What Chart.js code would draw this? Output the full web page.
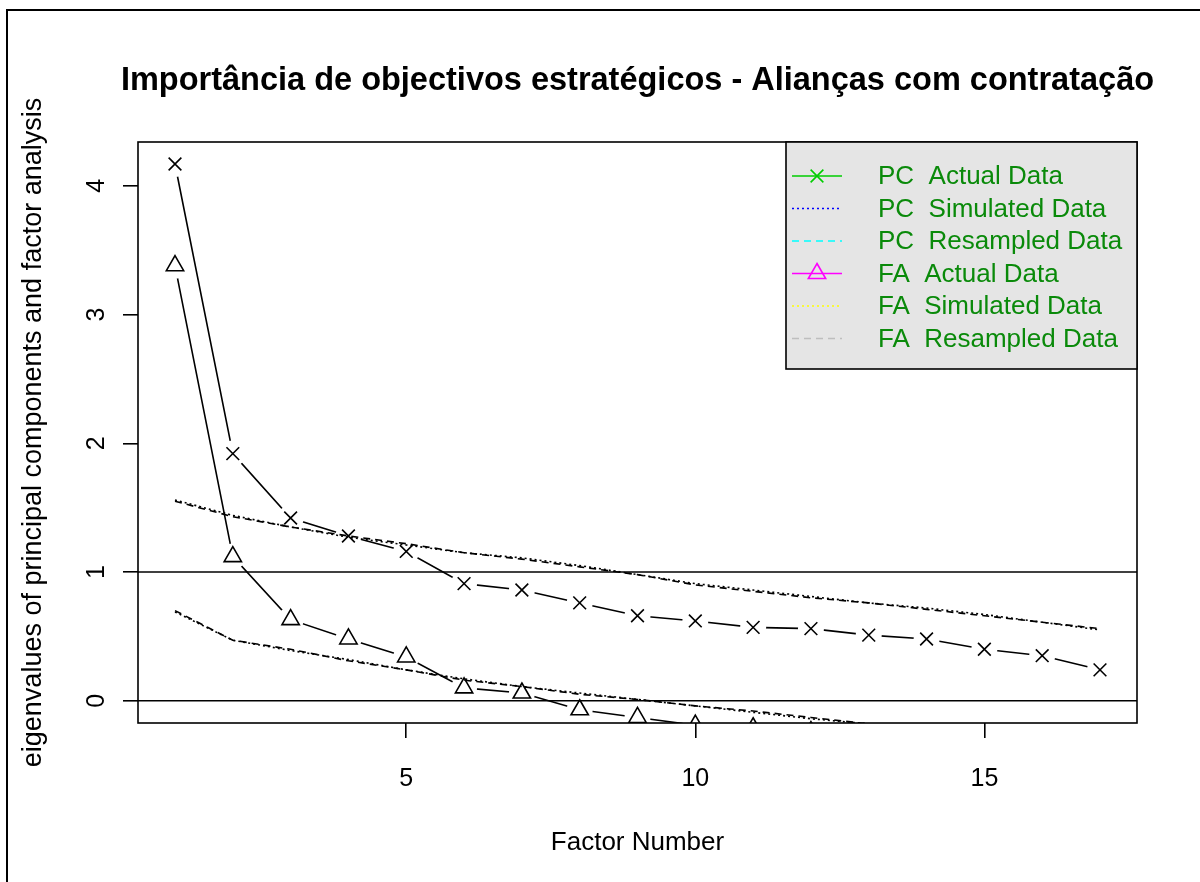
<!DOCTYPE html>
<html>
<head>
<meta charset="utf-8">
<script src="https://cdn.jsdelivr.net/npm/chart.js@4.4.0/dist/chart.umd.min.js"></script>
<style>
  html, body { margin: 0; padding: 0; background: #fff; }
</style>
</head>
<body>
<canvas id="chart" width="1200" height="882"></canvas>
<script>
// data
var FACTORS = [1, 2, 3, 4, 5, 6, 7, 8, 9, 10, 11, 12, 13, 14, 15, 16, 17];
var PC_ACTUAL = [4.17, 1.92, 1.42, 1.28, 1.16, 0.91, 0.86, 0.76, 0.66, 0.62, 0.57, 0.56, 0.51, 0.48, 0.40, 0.35, 0.24];
var PC_SIMULATED = [1.56, 1.44, 1.35, 1.27, 1.21, 1.15, 1.11, 1.05, 0.98, 0.91, 0.86, 0.81, 0.76, 0.72, 0.67, 0.61, 0.55];
var PC_RESAMPLED = [1.55, 1.43, 1.35, 1.28, 1.22, 1.15, 1.10, 1.04, 0.98, 0.90, 0.85, 0.80, 0.76, 0.71, 0.66, 0.61, 0.56];
var FA_ACTUAL = [3.38, 1.12, 0.63, 0.48, 0.34, 0.10, 0.06, -0.07, -0.13, -0.19, -0.21, -0.24, -0.27, -0.30, -0.32, -0.34, -0.37];
var FA_SIMULATED = [0.69, 0.47, 0.39, 0.32, 0.24, 0.17, 0.11, 0.06, 0.01, -0.04, -0.09, -0.14, -0.18, -0.21, -0.24, -0.27, -0.30];
var FA_RESAMPLED = [0.70, 0.47, 0.40, 0.31, 0.24, 0.16, 0.11, 0.05, 0.01, -0.04, -0.08, -0.13, -0.18, -0.21, -0.24, -0.27, -0.30];
var REF_LINES = [1, 0];

var X_TICKS = [5, 10, 15];
var Y_TICKS = [0, 1, 2, 3, 4];
var X_MIN = 0.36, X_MAX = 17.64;
var Y_MIN = -0.173, Y_MAX = 4.341;

var TITLE = 'Importância de objectivos estratégicos - Alianças com contratação';
var X_TITLE = 'Factor Number';
var Y_TITLE = 'eigenvalues of principal components and factor analysis';

var LEGEND_LABELS = ['PC  Actual Data', 'PC  Simulated Data', 'PC  Resampled Data',
                     'FA  Actual Data', 'FA  Simulated Data', 'FA  Resampled Data'];
var LEGEND_COLORS = ['#00cd00', '#0000ff', '#00ffff', '#ff00ff', '#ffff00', '#bebebe'];

var FONT = '"Liberation Sans", Arial, sans-serif';
var DOTTED = [2, 3];
var DASHED = [7, 5];
var LW = 1.6;

Chart.defaults.font.family = FONT;
Chart.defaults.color = '#000';

function pts(vals) {
    return FACTORS.map((f, i) => ({ x: f, y: vals[i] }));
}

// line with white knock-outs at the points (R type = "b")
function actualLine(vals) {
    return { data: pts(vals), borderColor: '#000', borderWidth: LW, tension: 0,
             pointStyle: 'circle', pointRadius: 13, pointBackgroundColor: '#fff',
             pointBorderWidth: 0, order: 10, clip: 0 };
}
function markers(vals, style, r) {
    return { data: pts(vals), showLine: false, pointStyle: style, pointRadius: r,
             pointBorderColor: '#000', pointBackgroundColor: 'rgba(0,0,0,0)',
             pointBorderWidth: LW, order: 1, clip: 0 };
}
function dashedLine(vals, dash) {
    return { data: pts(vals), borderColor: '#000', borderWidth: LW, borderDash: dash,
             tension: 0, pointRadius: 0, order: 5, clip: 0 };
}

var decorations = {
    id: 'decorations',
    beforeDraw(chart) {
        var ctx = chart.ctx;
        ctx.save();
        ctx.fillStyle = '#fff';
        ctx.fillRect(0, 0, chart.width, chart.height);
        ctx.strokeStyle = '#000';
        ctx.lineWidth = 2;
        ctx.beginPath();
        ctx.moveTo(7, chart.height);
        ctx.lineTo(7, 10);
        ctx.lineTo(chart.width, 10);
        ctx.stroke();
        ctx.restore();
    },
    afterDatasetsDraw(chart) {
        var ctx = chart.ctx, a = chart.chartArea, y = chart.scales.y;
        ctx.save();
        ctx.strokeStyle = '#000';
        ctx.lineWidth = LW;
        REF_LINES.forEach(v => {
            var py = y.getPixelForValue(v);
            ctx.beginPath();
            ctx.moveTo(a.left, py);
            ctx.lineTo(a.right, py);
            ctx.stroke();
        });
        ctx.strokeRect(a.left, a.top, a.right - a.left, a.bottom - a.top);
        ctx.restore();
    },
    afterDraw(chart) {
        var ctx = chart.ctx, a = chart.chartArea;
        ctx.save();
        // main title, centred over the plot region
        ctx.fillStyle = '#000';
        ctx.font = 'bold 32.5px ' + FONT;
        ctx.textAlign = 'center';
        ctx.textBaseline = 'middle';
        ctx.fillText(TITLE, (a.left + a.right) / 2, 81);

        // legend box, top right
        var lx = 786, ly = a.top, lw = a.right - lx, lh = 227;
        ctx.fillStyle = '#e5e5e5';
        ctx.fillRect(lx, ly, lw, lh);
        ctx.strokeStyle = '#000';
        ctx.lineWidth = LW;
        ctx.strokeRect(lx, ly, lw, lh);

        var dashes = [[], DOTTED, DASHED, [], DOTTED, DASHED];
        ctx.font = '26px ' + FONT;
        ctx.textAlign = 'left';
        LEGEND_LABELS.forEach((lab, i) => {
            var ry = ly + 34 + i * 32.5;
            ctx.strokeStyle = LEGEND_COLORS[i];
            ctx.lineWidth = LW;
            ctx.setLineDash(dashes[i]);
            ctx.beginPath();
            ctx.moveTo(792, ry);
            ctx.lineTo(842, ry);
            ctx.stroke();
            ctx.setLineDash([]);
            if (i === 0 || i === 3) {
                ctx.fillStyle = 'rgba(0,0,0,0)';
                Chart.helpers.drawPoint(ctx, {
                    pointStyle: i === 0 ? 'crossRot' : 'triangle',
                    radius: i === 0 ? 9 : 10, borderWidth: LW, rotation: 0
                }, 817, ry);
            }
            ctx.fillStyle = '#0a8a0a';
            ctx.fillText(lab, 878, ry + 1);
        });
        ctx.restore();
    }
};

var CHART_CONFIG = {
    type: 'line',
    data: {
        datasets: [
            actualLine(PC_ACTUAL),
            actualLine(FA_ACTUAL),
            dashedLine(PC_SIMULATED, DOTTED),
            dashedLine(PC_RESAMPLED, DASHED),
            dashedLine(FA_SIMULATED, DOTTED),
            dashedLine(FA_RESAMPLED, DASHED),
            markers(PC_ACTUAL, 'crossRot', 9),
            markers(FA_ACTUAL, 'triangle', 10)
        ]
    },
    options: {
        responsive: false,
        animation: false,
        events: [],
        layout: { padding: { left: 0, right: 63, top: 142, bottom: 0 } },
        plugins: { legend: { display: false }, tooltip: { enabled: false }, title: { display: false } },
        scales: {
            x: {
                type: 'linear', min: X_MIN, max: X_MAX,
                afterFit: s => { s.height = 159; },
                afterBuildTicks: s => { s.ticks = X_TICKS.map(v => ({ value: v })); },
                grid: { display: true, drawOnChartArea: false, drawTicks: true, tickLength: 15,
                        color: '#000', lineWidth: LW },
                border: { display: false },
                ticks: { padding: 26, maxRotation: 0, color: '#000', font: { size: 25 },
                         callback: v => String(v) },
                title: { display: true, text: X_TITLE, color: '#000', font: { size: 26 },
                         padding: { top: 0, bottom: 24 } }
            },
            y: {
                type: 'linear', min: Y_MIN, max: Y_MAX,
                afterFit: s => { s.width = 138; },
                afterBuildTicks: s => { s.ticks = Y_TICKS.map(v => ({ value: v })); },
                grid: { display: true, drawOnChartArea: false, drawTicks: true, tickLength: 15,
                        color: '#000', lineWidth: LW },
                border: { display: false },
                ticks: { minRotation: 90, maxRotation: 90, padding: 19, crossAlign: 'center',
                         color: '#000', font: { size: 25 }, callback: v => String(v) },
                title: { display: true, text: Y_TITLE, color: '#000', font: { size: 27 },
                         padding: { top: 17, bottom: 0 } }
            }
        }
    },
    plugins: [decorations]
};

var CHART = new Chart(document.getElementById('chart'), CHART_CONFIG);
</script>
</body>
</html>
